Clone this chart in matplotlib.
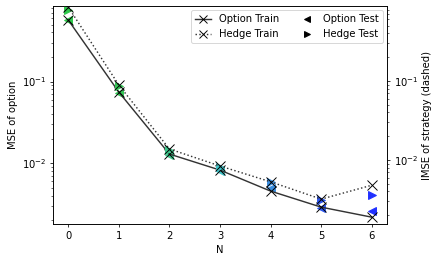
import matplotlib
matplotlib.use('Agg')
import matplotlib.pyplot as plt
from matplotlib.lines import Line2D

N = [0, 1, 2, 3, 4, 5, 6]
option_train = [0.569, 0.0743, 0.0129, 0.0082, 0.00453, 0.00288, 0.00217]
option_test = [0.56, 0.073, 0.0125, 0.0080, 0.0049, 0.0028, 0.00262]
hedge_train = [0.865, 0.089, 0.0138, 0.0084, 0.0053, 0.0032, 0.0048]
hedge_test = [0.79, 0.0865, 0.0134, 0.0082, 0.0052, 0.0031, 0.0036]
point_colors = ['#2ec84a', '#33c655', '#3cc88c', '#40c4c8', '#3a8ee0', '#2a55f0', '#2030ff']

plt.rcParams['font.size'] = 10.5
fig = plt.figure(figsize=(6.4, 262 / 68.75), dpi=68.75)
ax = fig.add_axes([53 / 440, 38 / 262, 334 / 440, 218 / 262])
ax2 = ax.twinx()

line_col = '#333333'
for n, v, c in zip(N, option_test, point_colors):
    ax.plot([n], [v], marker='<', color=c, ms=9, ls='none', zorder=2)
ax.plot(N, option_train, '-', color=line_col, lw=1.5, marker='x', ms=10,
        mec='k', mew=1.0, zorder=3)

for n, v, c in zip(N, hedge_test, point_colors):
    ax2.plot([n], [v], marker='>', color=c, ms=9, ls='none', zorder=2)
ax2.plot(N, hedge_train, ':', color=line_col, lw=1.5, marker='x', ms=10,
         mec='k', mew=1.0, zorder=3)

ax.set_yscale('log')
ax2.set_yscale('log')
ax.set_ylim(0.00179, 0.843)
ax2.set_ylim(0.00155, 0.889)
ax.set_xlim(-0.3, 6.3)
ax.set_xticks(N)
ax.set_xlabel('N')
ax.set_ylabel('MSE of option')
ax2.set_ylabel('IMSE of strategy (dashed)')

handles = [
    Line2D([], [], ls='-', color=line_col, lw=1.5, marker='x', ms=8, mec='k'),
    Line2D([], [], ls=':', color=line_col, lw=1.5, marker='x', ms=8, mec='k'),
    Line2D([], [], ls='none', color='k', marker='<', ms=7),
    Line2D([], [], ls='none', color='k', marker='>', ms=7),
]
labels = ['Option Train', 'Hedge Train', 'Option Test', 'Hedge Test']
ax2.legend(handles, labels, ncol=2, loc='upper right', handlelength=1.6,
           borderaxespad=0.4)

fig.savefig('out.png', dpi=68.75)
